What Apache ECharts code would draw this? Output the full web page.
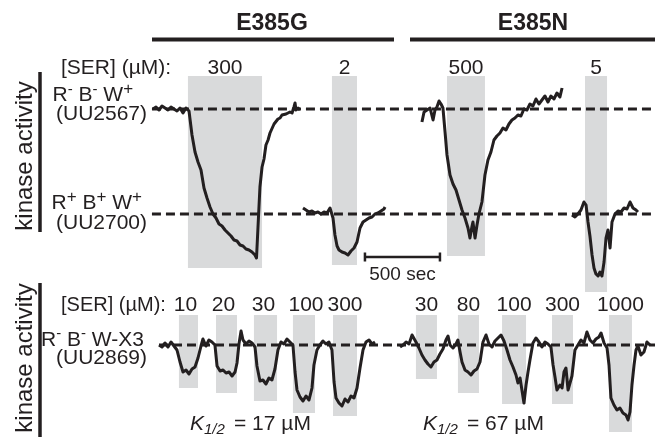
<!DOCTYPE html>
<html>
<head>
<meta charset="utf-8">
<style>
html,body{margin:0;padding:0;background:#fff;}
#main{width:655px;height:437px;}
</style>
<script src="https://cdn.jsdelivr.net/npm/echarts@6.0.0/dist/echarts.min.js"></script>
</head>
<body>
<div id="main"></div>
<script>
var FONT = '"Liberation Sans", Arial, sans-serif';
var INK = '#231f20';
var GREY = '#d9dadb';

// traces: [time (sec), change in kinase activity vs baseline (arb. units)]
// E385G, R- B- W+ (UU2567), 300 uM SER
var traceA = [[1020,0],[1040,2],[1060,-1],[1080,3],[1100,1],[1120,-1],[1140,2],[1160,0],[1180,-2],[1200,1],[1220,-4],[1240,1],[1260,-2],
    [1280,-26],[1300,-43],[1320,-53],[1340,-61],[1360,-79],[1380,-89],[1400,-98],[1420,-105],[1440,-109],[1460,-115],[1480,-117],
    [1500,-121],[1520,-124],[1540,-127],[1560,-131],[1580,-132],[1600,-136],[1620,-137],[1640,-140],[1660,-141],[1680,-143],[1700,-146],
    [1710,-149],[1720,-118],[1733,-78],[1747,-58],[1760,-50],[1773,-36],[1787,-31],[1800,-24],[1813,-22],[1827,-15],[1840,-14],
    [1853,-10],[1867,-9],[1880,-6],[1893,-8],[1907,-5],[1920,-6],[1933,-3],[1947,-4],[1960,2],[1967,6],[1973,-1],[1987,1],[2000,-1]];
// E385G, R+ B+ W+ (UU2700), 2 uM SER
var traceB = [[2020,6],[2040,4],[2060,2],[2080,3],[2100,1],[2120,2],[2140,0],[2160,2],[2180,1],[2200,6],[2220,-4],[2233,-21],
    [2247,-32],[2260,-36],[2280,-38],[2300,-39],[2320,-41],[2340,-37],[2360,-34],[2380,-28],[2400,-14],[2420,-8],[2440,-6],
    [2460,-4],[2480,-3],[2500,0],[2520,1],[2540,3],[2560,5],[2567,7]];
// E385N, R- B- W+ (UU2567), 500 uM SER
var traceC = [[2813,-13],[2827,-3],[2847,-1],[2867,1],[2887,-11],[2900,-1],[2913,2],[2927,8],[2940,5],[2953,1],[2967,-23],
    [2980,-46],[3000,-66],[3020,-75],[3040,-81],[3060,-91],[3080,-101],[3100,-109],[3120,-119],[3133,-129],[3147,-117],[3153,-113],
    [3167,-129],[3180,-116],[3193,-105],[3213,-93],[3233,-66],[3253,-51],[3273,-43],[3293,-31],[3313,-27],[3333,-24],[3353,-19],
    [3373,-21],[3393,-15],[3413,-11],[3433,-9],[3453,-6],[3473,-7],[3493,0],[3513,-1],[3533,5],[3553,3],[3573,10],[3593,5],
    [3613,9],[3633,13],[3653,7],[3673,13],[3693,10],[3713,16],[3733,12],[3747,21]];
// E385N, R+ B+ W+ (UU2700), 5 uM SER
var traceD = [[3813,-1],[3833,-3],[3853,0],[3873,4],[3893,12],[3907,9],[3920,-8],[3933,-22],[3947,-41],[3960,-54],[3973,-60],
    [3987,-62],[4000,-58],[4013,-62],[4027,-48],[4040,-24],[4053,-16],[4067,-34],[4080,-8],[4100,0],[4120,3],[4140,2],[4160,6],
    [4180,5],[4200,12],[4220,6],[4240,4],[4253,2]];
// E385G, R- B- W-X3 (UU2869), 10/20/30/100/300 uM SER
var traceE = [[1060,0],[1080,-2],[1100,2],[1120,-2],[1140,3],[1160,-1],[1180,-5],[1200,-17],[1220,-27],[1240,-25],[1260,-29],
    [1280,-24],[1300,-22],[1320,-13],[1340,-1],[1353,6],[1373,-1],[1393,5],[1413,3],[1433,0],[1447,-21],[1467,-26],[1487,-25],
    [1507,-28],[1527,-27],[1547,-31],[1567,-27],[1580,-18],[1593,1],[1607,14],[1620,5],[1640,1],[1660,4],[1680,2],[1700,-2],
    [1713,-21],[1733,-36],[1753,-35],[1773,-39],[1793,-33],[1813,-35],[1833,-24],[1853,-5],[1873,3],[1893,1],[1913,6],[1933,3],
    [1953,0],[1967,-27],[1980,-45],[2000,-52],[2020,-56],[2040,-51],[2060,-55],[2080,-43],[2093,-20],[2113,-5],[2133,0],[2153,4],
    [2173,1],[2193,3],[2213,-5],[2227,-37],[2240,-53],[2260,-58],[2280,-61],[2300,-54],[2320,-57],[2340,-51],[2360,-53],[2380,-43],
    [2400,-23],[2420,-5],[2440,3],[2460,5],[2480,1],[2500,3]];
// E385N, R- B- W-X3 (UU2869), 30/80/100/300/1000 uM SER
var traceF = [[2667,-2],[2687,0],[2707,3],[2727,1],[2747,10],[2760,12],[2773,3],[2793,-3],[2813,-10],[2833,-15],[2853,-19],
    [2873,-22],[2893,-17],[2913,-15],[2933,-9],[2953,-4],[2973,5],[2987,9],[3000,0],[3020,-3],[3040,1],[3053,5],[3067,-7],
    [3080,-17],[3100,-25],[3120,-27],[3140,-30],[3160,-26],[3180,-24],[3200,-17],[3220,3],[3240,10],[3260,1],[3280,-2],[3300,4],
    [3320,7],[3340,10],[3360,4],[3380,-5],[3400,-15],[3420,-22],[3440,-30],[3453,-38],[3467,-33],[3480,-35],[3493,-58],[3507,-40],
    [3520,-27],[3533,-15],[3553,2],[3573,7],[3593,3],[3613,-2],[3633,3],[3653,1],[3673,-2],[3687,-20],[3700,-32],[3713,-45],
    [3733,-40],[3747,-43],[3760,-27],[3773,-23],[3787,-45],[3800,-38],[3813,-31],[3833,-5],[3853,0],[3873,5],[3893,2],[3913,13],
    [3933,5],[3953,2],[3973,6],[3993,8],[4007,12],[4027,2],[4047,-3],[4060,-20],[4073,-53],[4093,-60],[4113,-65],[4133,-63],
    [4153,-68],[4173,-70],[4187,-75],[4200,-67],[4213,-40],[4227,-20],[4240,-5],[4253,-1],[4273,-10],[4293,-7],[4313,3],[4333,0]];

// SER application windows (sec) and concentrations (uM)
var stimTop = [[1253,1747],[2213,2380],[2980,3233],[3900,4047]];
var concTop = ['300', '2', '500', '5'];
var stimBottom = [[1193,1320],[1440,1580],[1693,1847],[1953,2100],[2220,2380],
    [2773,2913],[3053,3193],[3347,3507],[3680,3820],[4060,4213]];
var concBottom = ['10', '20', '30', '100', '300', '30', '80', '100', '300', '1000'];
var kHalf = ['17', '67'];
var scaleSec = 500;

// layout (y axis units)
var row1 = 328, row2 = 223, row3 = 92;
var boxTopHi = 361, boxBotHi = 122;
var boxTopLo = [169, 172, 181, 145];
var boxBotLo = [49, 44, 36, 24, 21, 58, 44, 33, 33, 5];
// small nudges of the typed bottom labels, px
var concBottomDx = [-3, -3, -2, 2, 0, 0, 0, 0, 0, 0];

function shift(arr, b) {
    return arr.map(function (p) { return [p[0], p[1] + b]; });
}

var boxes = [];
stimTop.forEach(function (s, i) { boxes.push([s[0], s[1], boxTopLo[i], boxTopHi]); });
stimBottom.forEach(function (s, i) { boxes.push([s[0], s[1], boxBotLo[i], boxBotHi]); });

function traceSeries(data, base) {
    return {
        type: 'line', data: shift(data, base), showSymbol: false, z: 5,
        lineStyle: {color: INK, width: 3, join: 'round'}
    };
}
function dashSeries(t0, base) {
    return {
        type: 'line', data: [[t0, base], [4366.67, base]], showSymbol: false, z: 3,
        lineStyle: {color: INK, width: 3, type: [9, 5]}
    };
}

var t0 = 2433, sy = 180;
var option = {
    animation: false,
    grid: {left: 0, right: 0, top: 0, bottom: 0},
    xAxis: {type: 'value', min: 0, max: 4366.67, show: false},
    yAxis: {type: 'value', min: 0, max: 437, show: false},
    series: [
        {
            type: 'custom', z: 1, data: boxes,
            encode: {x: [0, 1], y: [2, 3]},
            renderItem: function (params, api) {
                var p0 = api.coord([api.value(0), api.value(3)]);
                var p1 = api.coord([api.value(1), api.value(2)]);
                return {type: 'rect', shape: {x: p0[0], y: p0[1], width: p1[0] - p0[0], height: p1[1] - p0[1]},
                    style: {fill: GREY}};
            }
        },
        dashSeries(1013, row1),
        dashSeries(1013, row2),
        dashSeries(1060, row3),
        traceSeries(traceA, row1),
        traceSeries(traceB, row2),
        traceSeries(traceC, row1),
        traceSeries(traceD, row2),
        traceSeries(traceE, row3),
        traceSeries(traceF, row3),
        {
            type: 'line', showSymbol: false, z: 5,
            data: [[t0, sy + 4.5], [t0, sy - 4.5], [t0, sy], [t0 + scaleSec, sy], [t0 + scaleSec, sy + 4.5], [t0 + scaleSec, sy - 4.5]],
            lineStyle: {color: INK, width: 2.5}
        }
    ]
};

var chart = echarts.init(document.getElementById('main'));
chart.setOption(option);

var ctx = document.createElement('canvas').getContext('2d');
function textW(str, size, italic, bold) {
    ctx.font = (italic ? 'italic ' : '') + (bold ? 'bold ' : '') + size + 'px ' + FONT;
    return ctx.measureText(str).width;
}
function txt(x, y, s, size, align, extra) {
    var st = {text: s, fontSize: size, fontFamily: FONT, fill: INK,
        align: align, textAlign: align, verticalAlign: 'middle', textVerticalAlign: 'middle'};
    for (var k in extra || {}) st[k] = extra[k];
    return {type: 'text', x: x, y: y, style: st, z: 10};
}
// pieces: [text, size, dy, italic]
function richRow(x, y, parts) {
    var out = [];
    parts.forEach(function (p) {
        out.push(txt(x, y + p[2], p[0], p[1], 'left', {fontStyle: p[3] ? 'italic' : 'normal'}));
        x += textW(p[0], p[1], p[3]);
    });
    return out;
}
function hline(x1, x2, y, w) {
    return {type: 'line', shape: {x1: x1, y1: y, x2: x2, y2: y}, style: {stroke: INK, lineWidth: w}, z: 10};
}
function vline(x, y1, y2, w) {
    return {type: 'line', shape: {x1: x, y1: y1, x2: x, y2: y2}, style: {stroke: INK, lineWidth: w}, z: 10};
}

var g = [];
g.push(txt(272, 24, 'E385G', 23, 'center', {fontWeight: 'bold'}));
g.push(txt(533, 24, 'E385N', 23, 'center', {fontWeight: 'bold'}));
g.push(hline(152, 394, 39.5, 4));
g.push(hline(410, 655, 39.5, 4));
g.push(vline(40, 72, 232, 3.5));
g.push(vline(40, 283, 437, 3.5));
g.push(txt(25, 156, 'kinase activity', 24, 'center', {}));
g[g.length - 1].rotation = Math.PI / 2;
g.push(txt(25, 358, 'kinase activity', 24, 'center', {}));
g[g.length - 1].rotation = Math.PI / 2;

g.push(txt(61, 68, '[SER] (\u00b5M):', 21, 'left'));
g.push(txt(61, 305, '[SER] (\u00b5M):', 20, 'left'));
stimTop.forEach(function (s, i) {
    var p = chart.convertToPixel({gridIndex: 0}, [(s[0] + s[1]) / 2, 0]);
    g.push(txt(p[0], 68, concTop[i], 21, 'center'));
});
stimBottom.forEach(function (s, i) {
    var p = chart.convertToPixel({gridIndex: 0}, [(s[0] + s[1]) / 2, 0]);
    g.push(txt(p[0] + concBottomDx[i], 305, concBottom[i], 21, 'center'));
});

// strain labels
g = g.concat(richRow(52.5, 95.5, [['R', 21, 0], ['-', 15, -6], [' B', 21, 0], ['-', 15, -6], [' W', 21, 0], ['+', 17, -6]]));
g.push(txt(56, 114, '(UU2567)', 21, 'left'));
g = g.concat(richRow(51.5, 203, [['R', 21, 0], ['+', 17, -6], [' B', 21, 0], ['+', 17, -6], [' W', 21, 0], ['+', 17, -6]]));
g.push(txt(56, 223, '(UU2700)', 21, 'left'));
g = g.concat(richRow(41, 340, [['R', 21, 0], ['-', 15, -6], [' B', 21, 0], ['-', 15, -6], [' W-X3', 21, 0]]));
g.push(txt(56, 358, '(UU2869)', 21, 'left'));

// scale bar label
var sp = chart.convertToPixel({gridIndex: 0}, [t0 + scaleSec / 2, sy]);
g.push(txt(sp[0], 275, scaleSec + ' sec', 19, 'center'));

// K1/2
[190, 423].forEach(function (x, i) {
    g.push(txt(x, 424, 'K', 21, 'left', {fontStyle: 'italic'}));
    g.push(txt(x + 14, 430, '1/2', 15, 'left', {fontStyle: 'italic'}));
    g.push(txt(x + 44, 424, '= ' + kHalf[i] + ' \u00b5M', 21, 'left'));
});

chart.setOption({graphic: {elements: g}});
</script>
</body>
</html>
